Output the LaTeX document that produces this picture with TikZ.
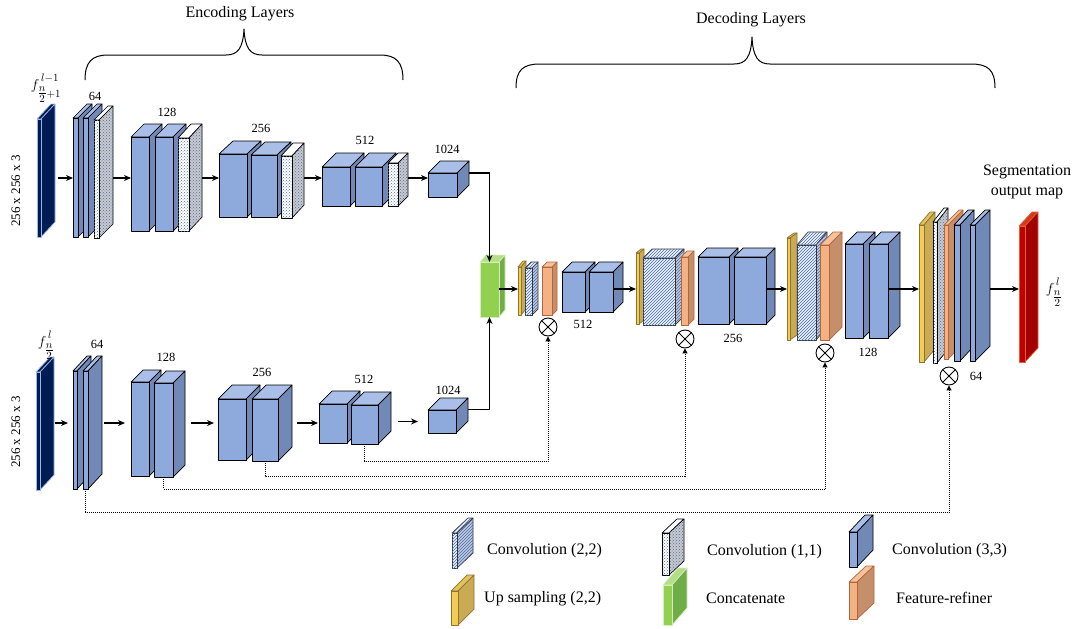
\documentclass[tikz,border=0pt]{standalone}
\usepackage{amsmath}
\usepackage{fontspec}
\setmainfont{Liberation Serif}
\usetikzlibrary{arrows.meta,patterns}
\definecolor{bF}{HTML}{8EA9DB}
\definecolor{bT}{HTML}{A9BFE8}
\definecolor{bS}{HTML}{7189B6}
\definecolor{nv}{HTML}{001C55}
\definecolor{nvE}{HTML}{9DB5E3}
\definecolor{yF}{HTML}{F2CC55}
\definecolor{yT}{HTML}{E4C25A}
\definecolor{yS}{HTML}{CBAA55}
\definecolor{yE}{HTML}{8B7330}
\definecolor{oF}{HTML}{F4B183}
\definecolor{oT}{HTML}{F6C29C}
\definecolor{oS}{HTML}{C68F6B}
\definecolor{oE}{HTML}{B5653A}
\definecolor{gF}{HTML}{92D050}
\definecolor{gT}{HTML}{B2DE85}
\definecolor{gS}{HTML}{70AD47}
\definecolor{gE}{HTML}{D5EDC0}
\definecolor{rF}{HTML}{C00000}
\definecolor{rT}{HTML}{D23A1A}
\definecolor{rS}{HTML}{A30000}
\definecolor{rE}{HTML}{E0603A}
\definecolor{hF}{HTML}{EAF0F9}
\definecolor{hT}{HTML}{F1F5FB}
\definecolor{hS}{HTML}{BFC9DB}
\definecolor{hC}{HTML}{4A6DB0}
\definecolor{dS}{HTML}{C9C9C9}
\definecolor{dC}{HTML}{4A6FB5}
\tikzset{
  face/.style={line width=0.7pt, line join=round, inner sep=0pt, outer sep=0pt},
  blueF/.style={face, draw=black, fill=bF},
  blueT/.style={face, draw=black, fill=bT},
  blueS/.style={face, draw=black, fill=bS},
  navyF/.style={face, draw=nvE, line width=1pt, fill=nv},
  navyT/.style={face, draw=nvE, fill=nv},
  navyS/.style={face, draw=nvE, fill=nv},
  yelF/.style={face, draw=yE, fill=yF},
  yelT/.style={face, draw=yE, fill=yT},
  yelS/.style={face, draw=yE, fill=yS},
  orgF/.style={face, draw=oE, fill=oF},
  orgT/.style={face, draw=oE, fill=oT},
  orgS/.style={face, draw=oE, fill=oS},
  grnF/.style={face, draw=gE, fill=gF},
  grnT/.style={face, draw=gE, fill=gT},
  grnS/.style={face, draw=gE, fill=gS},
  redF/.style={face, draw=rE, fill=rF},
  redT/.style={face, draw=rE, fill=rT},
  redS/.style={face, draw=rE, fill=rS},
  c22F/.style={face, draw=black!80, fill=hF, postaction={pattern=north east lines, pattern color=hC}},
  c22T/.style={face, draw=black!80, fill=hT, postaction={pattern=north east lines, pattern color=hC}},
  c22S/.style={face, draw=black!80, fill=hS, postaction={pattern=north east lines, pattern color=hC}},
  c11F/.style={face, draw=black, fill=white, postaction={pattern=crosshatch dots, pattern color=dC}},
  c11T/.style={face, draw=black, fill=white},
  c11S/.style={face, draw=black, fill=dS, postaction={pattern=crosshatch dots, pattern color=dC}},
  arr/.style={line width=1.2pt, -{Stealth[length=7pt,width=6pt]}},
  skip/.style={line width=1pt, densely dotted, -{Triangle[length=5pt,width=5pt]}},
  otimes/.style={circle, draw, line width=0.9pt, minimum size=18pt, inner sep=0pt,
    path picture={\draw[line width=0.9pt] (path picture bounding box.north west) -- (path picture bounding box.south east)
      (path picture bounding box.north east) -- (path picture bounding box.south west);}},
  num/.style={font=\fontsize{12.5}{14}\selectfont, inner sep=0pt},
  ttl/.style={font=\fontsize{16}{19}\selectfont, inner sep=0pt},
  leg/.style={font=\fontsize{16}{19}\selectfont, inner sep=0pt, anchor=west},
  fml/.style={font=\fontsize{15}{17}\selectfont, inner sep=0pt},
  brc/.style={line width=1pt, line join=round}
}
\newcommand{\hfr}{\genfrac{}{}{0.4pt}{1}{n}{2}}
\newcommand{\sdp}{\rule[-3pt]{0pt}{3pt}}
% name, x, y, w, h, dx, dy, type
\newcommand{\blk}[8]{%
  \path[#8T] (#2,#3) -- ++(#6,-#7) -- ++(#4,0) -- ++(-#6,#7) -- cycle;
  \path[#8S] (#2+#4,#3) -- ++(#6,-#7) -- ++(0,#5) -- ++(-#6,#7) -- cycle;
  \node[#8F, minimum width=#4, minimum height=#5, anchor=north west] (#1) at (#2,#3) {};
  \coordinate (#1r) at (#2+#4+#6, #3+#5/2-#7);
}
\begin{document}
\begin{tikzpicture}[x=1pt,y=-1pt]
\useasboundingbox (0,0) rectangle (1076,629);
\fill[white] (0,0) rectangle (1076,629);
\coordinate (toprow) at (0,178);
\coordinate (botrow) at (0,423);
\coordinate (decrow) at (0,289);

% braces and titles
\draw[brc] (85,80) .. controls (85,62) and (92,55) .. (108,55) -- (226,55) .. controls (238,55) and (243,48) .. (244,29) .. controls (245,48) and (250,55) .. (262,55) -- (380,55) .. controls (396,55) and (403,62) .. (403,80);
\draw[brc] (516,88) .. controls (516,70) and (523,64) .. (540,64) -- (734,64) .. controls (746,64) and (751,57) .. (752,37) .. controls (753,57) and (758,64) .. (770,64) -- (971,64) .. controls (988,64) and (995,70) .. (995,88);
\node[ttl] (enc) at (240,14) {Encoding Layers};
\node[ttl] (dec) at (751,20) {Decoding Layers};

% top encoder
\blk{t0}{37}{119}{4}{118}{14}{15}{navy}
\blk{t1a}{73}{118}{5}{119}{14}{14}{blue}
\blk{t1b}{83}{118}{5}{119}{14}{14}{blue}
\blk{t1c}{94}{120}{5}{118}{14}{14}{c11}
\blk{t2a}{131}{137}{18}{94}{13}{13}{blue}
\blk{t2b}{155}{137}{18}{94}{13}{13}{blue}
\blk{t2c}{178}{138}{11}{93}{13}{14}{c11}
\blk{t3a}{219}{154}{28}{63}{14}{13}{blue}
\blk{t3b}{251}{155}{26}{62}{14}{13}{blue}
\blk{t3c}{281}{156}{11}{62}{12}{13}{c11}
\blk{t4a}{322}{167}{28}{39}{14}{14}{blue}
\blk{t4b}{355}{167}{27}{39}{14}{14}{blue}
\blk{t4c}{388}{163}{10}{43}{10}{10}{c11}
\blk{t5}{428}{173}{29}{24}{12}{12}{blue}

\node[rotate=90, font=\fontsize{13}{15}\selectfont] (dimt) at (16,191) {256 x 256 x 3};
\node[fml] (ft) at (46,88) {$f^{\,l-1\sdp}_{\hfr+1}$};
\node[num] (lt1) at (95,96) {64};
\node[num] (lt2) at (167,112) {128};
\node[num] (lt3) at (261,128) {256};
\node[num] (lt4) at (365,140) {512};
\node[num] (lt5) at (447,149) {1024};

\draw[arr, shorten <=3pt] (t0r |- toprow) -- (t1a.west |- toprow);
\draw[arr] (t1cr |- toprow) -- (t2a.west |- toprow);
\draw[arr] (t2cr |- toprow) -- (t3a.west |- toprow);
\draw[arr] (t3cr |- toprow) -- (t4a.west |- toprow);
\draw[arr] (t4cr |- toprow) -- (t5.west |- toprow);

% bottom encoder
\blk{b0}{36}{372}{4}{118}{14}{15}{navy}
\blk{b1a}{73}{371}{4}{118}{14}{15}{blue}
\blk{b1b}{83}{371}{5}{118}{14}{15}{blue}
\blk{b2a}{131}{382}{18}{94}{12}{12}{blue}
\blk{b2b}{154}{383}{19}{94}{12}{12}{blue}
\blk{b3a}{218}{399}{28}{61}{14}{14}{blue}
\blk{b3b}{252}{399}{26}{62}{14}{14}{blue}
\blk{b4a}{319}{404}{28}{39}{13}{13}{blue}
\blk{b4b}{351}{405}{27}{39}{13}{13}{blue}
\blk{b5}{428}{410}{28}{23}{12}{12}{blue}

\node[rotate=90, font=\fontsize{13}{15}\selectfont] (dimb) at (16,432) {256 x 256 x 3};
\node[fml] (fb) at (46,345) {$f^{\,l\sdp}_{\hfr}$};
\node[num] (lb1) at (97,344) {64};
\node[num] (lb2) at (166,357) {128};
\node[num] (lb3) at (262,372) {256};
\node[num] (lb4) at (364,379) {512};
\node[num] (lb5) at (448,390) {1024};

\draw[arr, shorten <=1pt, shorten >=5pt] (b0r |- botrow) -- (b1a.west |- botrow);
\draw[arr, shorten <=2pt, shorten >=6pt] (b1br |- botrow) -- (b2a.west |- botrow);
\draw[arr, shorten <=6pt, shorten >=4pt] (b2br |- botrow) -- (b3a.west |- botrow);
\draw[arr, shorten <=5pt, shorten >=1pt] (b3br |- botrow) -- (b4a.west |- botrow);
\draw[arr, shorten <=7pt, shorten >=10pt] (b4br |- b5.west) -- (b5.west);

% decoder
\blk{cat}{480}{262}{19}{55}{6}{7}{grn}
\draw[arr] (t5r) -| (cat.north);
\draw[arr] (b5r) -| (cat.south);
\blk{d1y}{518}{267}{3}{48}{5}{6}{yel}
\blk{d1h}{525}{268}{7}{47}{6}{6}{c22}
\blk{d1o}{542}{267}{10}{48}{5}{5}{org}
\blk{d1a}{562}{272}{23}{40}{10}{10}{blue}
\blk{d1b}{589}{272}{24}{40}{10}{10}{blue}
\blk{d2y}{636}{253}{3}{71}{5}{4}{yel}
\blk{d2h}{643}{258}{32}{67}{9}{9}{c22}
\blk{d2o}{681}{257}{7}{68}{6}{6}{org}
\blk{d2a}{698}{257}{31}{67}{9}{9}{blue}
\blk{d2b}{734}{257}{32}{67}{9}{9}{blue}
\blk{d3y}{787}{238}{3}{102}{7}{5}{yel}
\blk{d3h}{797}{245}{19}{95}{11}{13}{c22}
\blk{d3o}{820}{245}{9}{95}{13}{13}{org}
\blk{d3a}{845}{244}{18}{94}{12}{12}{blue}
\blk{d3b}{869}{244}{19}{94}{12}{12}{blue}
\blk{d4y}{919}{225}{5}{137}{11}{13}{yel}
\blk{d4h}{933}{222}{4}{141}{11}{14}{c11}
\blk{d4o}{944}{225}{4}{134}{15}{15}{org}
\blk{d4a}{954}{225}{6}{136}{14}{15}{blue}
\blk{d4b}{970}{225}{5}{136}{15}{15}{blue}
\blk{out}{1019}{226}{6}{136}{13}{14}{red}

\draw[arr] (cat.east |- decrow) -- (d1y.west |- decrow);
\draw[arr] (d1b.east |- decrow) -- (d2y.west |- decrow);
\draw[arr] (d2b.east |- decrow) -- (d3y.west |- decrow);
\draw[arr] (d3b.east |- decrow) -- (d4y.west |- decrow);
\draw[arr] (d4br |- decrow) -- (out.west |- decrow);

\node[num] (ld1) at (583,324) {512};
\node[num] (ld2) at (733,338) {256};
\node[num] (ld3) at (868,352) {128};
\node[num] (ld4) at (976,376) {64};
\node[ttl] (seg1) at (1027,172) {Segmentation};
\node[ttl] (seg2) at (1027,193) {output map};
\node[fml] (fo) at (1054,292) {$f^{\,l\sdp}_{\hfr}$};

% multiplications and skip connections
\node[otimes] (x1) at (548,327) {};
\node[otimes] (x2) at (685,339) {};
\node[otimes] (x3) at (825,353) {};
\node[otimes] (x4) at (949,376) {};
\draw[skip] (b4b.south) -- ++(0,17) -| (x1.south);
\draw[skip] (b3b.south) -- ++(0,15) -| (x2.south);
\draw[skip] (b2b.south) -- ++(0,12) -| (x3.south);
\draw[skip] (b1b.south) -- ++(0,23) -| (x4.south);

% legend
\blk{L1}{452}{533}{5}{35}{16}{15}{c22}
\blk{L2}{662}{533}{7}{42}{15}{14}{c11}
\blk{L3}{849}{532}{8}{35}{16}{17}{blue}
\blk{L4}{451}{591}{7}{34}{16}{16}{yel}
\blk{L5}{663}{585}{9}{40}{15}{17}{grn}
\blk{L6}{849}{582}{8}{37}{17}{16}{org}
\node[leg] (T1) at (487,551) {Convolution (2,2)};
\node[leg] (T2) at (707,552) {Convolution (1,1)};
\node[leg] (T3) at (892,551) {Convolution (3,3)};
\node[leg] (T4) at (484,599) {Up sampling (2,2)};
\node[leg] (T5) at (706,598) {Concatenate};
\node[leg] (T6) at (896,598) {Feature-refiner};
\end{tikzpicture}
\end{document}
